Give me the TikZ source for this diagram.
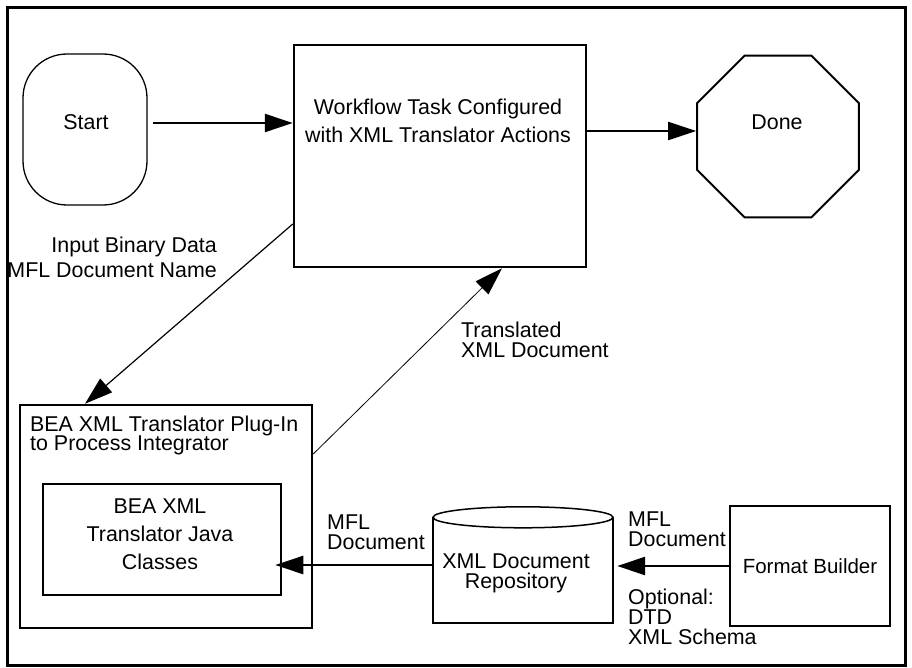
\documentclass[tikz,border=0pt]{standalone}
\usepackage{fontspec}
\setmainfont{Liberation Sans}
\usetikzlibrary{arrows.meta,shapes.geometric}

\begin{document}
\begin{tikzpicture}[x=1pt, y=-1pt,
    box/.style={draw, line width=2.5pt, inner sep=0pt},
    txt/.style={font=\fontsize{21.4}{#1}\selectfont, inner sep=0pt},
    txt/.default=20,
    arr/.style={-{Triangle[length=28pt,width=18pt]}, line width=2.5pt},
    thinarr/.style={-{Triangle[length=28pt,width=18pt]}, line width=1.2pt}]
    \useasboundingbox (0,0) rectangle (912,668);
    \draw[line width=3pt] (7,8) rectangle (905,665);

    % top row
    \node[draw, line width=1.3pt, rounded corners=44pt, minimum width=124pt, minimum height=151pt] (start) at (85,129.5) {};
    \node[txt] (startlbl) at (86,122.5) {Start};
    \node[box, minimum width=292pt, minimum height=222pt] (task) at (440,156) {};
    \node[txt=28, align=center] (tasklbl) at (438,120.5) {Workflow Task Configured\\with XML Translator Actions};
    \node[draw, regular polygon, regular polygon sides=8, minimum size=175pt, line width=2pt] (done) at (778,136.5) {};
    \node[txt] (donelbl) at (777,122.5) {Done};

    % bottom row
    \node[box, minimum width=292pt, minimum height=223pt] (plugin) at (166,516.5) {};
    \node[txt=19.5, align=left, anchor=west] (pluginlbl) at (30,435.5) {BEA XML Translator Plug-In\\ to Process Integrator};
    \node[box, minimum width=238pt, minimum height=111pt] (inner) at (162,539.5) {};
    \node[txt=28, align=center] (innerlbl) at (160,534.5) {BEA XML\\Translator Java\\Classes};
    \node[minimum width=180pt, minimum height=116pt, inner sep=0pt] (repo) at (523,565) {};
    \draw[line width=2pt] ([yshift=-10.5pt]repo.north west) -- (repo.south west) -- (repo.south east) -- ([yshift=-10.5pt]repo.north east);
    \draw[line width=1.5pt] ([yshift=-10.5pt]repo.north) ellipse [x radius=90pt, y radius=10.5pt];
    \node[txt=20, align=center] (repolbl) at (516,573.5) {XML Document\\Repository};
    \node[box, minimum width=160pt, minimum height=120pt, font=\fontsize{20.5}{20}\selectfont] (fmt) at (810,566) {Format Builder};

    % connectors
    \coordinate (startout) at ([xshift=5pt,yshift=6.5pt]start.east);
    \draw[arr] (startout) -- (startout -| task.west);
    \coordinate (donein) at ([yshift=5.5pt]done.west);
    \draw[arr] (donein -| task.east) -- (donein);
    \draw[thinarr] ([yshift=-68pt]task.west) -- ([xshift=-81pt]plugin.north);
    \draw[thinarr, line width=0.8pt] ([yshift=62.5pt]plugin.east) -- ([xshift=62pt]task.south);
    \draw[arr, shorten >=-7pt] (repo.west) -- (repo.west -| inner.east);
    \draw[arr, shorten >=4pt] (fmt.west) -- (fmt.west -| repo.east);

    % labels
    \node[txt=25, align=right, anchor=east] (inlbl) at (217,257) {Input Binary Data\\MFL Document Name};
    \node[txt, align=left, anchor=west] (translbl) at (461,340) {Translated\\XML Document};
    \node[txt, align=left, anchor=west] (mflleft) at (327,532) {MFL\\Document};
    \node[txt, align=left, anchor=west] (mflright) at (628,529.5) {MFL\\Document};
    \node[txt, align=left, anchor=west] (optlbl) at (628,617) {Optional:\\DTD\\XML Schema};
\end{tikzpicture}
\end{document}
